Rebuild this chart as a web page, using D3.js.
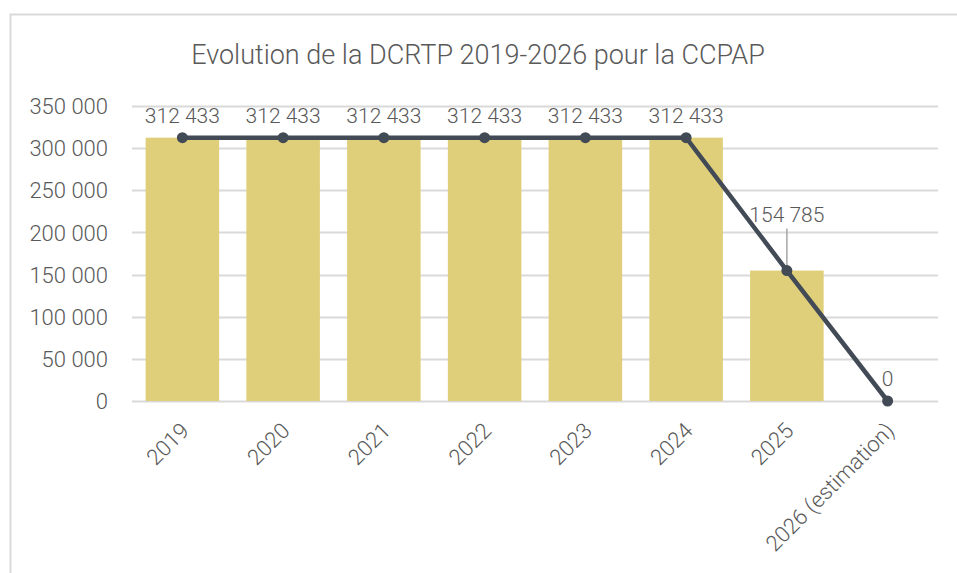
<!DOCTYPE html>
<html>
<head>
<meta charset="utf-8">
<script src="https://cdn.jsdelivr.net/npm/d3@7"></script>
<style>
  body { margin: 0; background: #fff; }
  svg text { font-family: Roboto, "Noto Sans", sans-serif; font-weight: 300; fill: #595959; }
</style>
</head>
<body>
<svg id="chart" width="957" height="573"></svg>
<script>
// chart data
const categories = ["2019", "2020", "2021", "2022", "2023", "2024", "2025", "2026 (estimation)"];
const barValues = [312433, 312433, 312433, 312433, 312433, 312433, 154785, null];
const lineValues = [312433, 312433, 312433, 312433, 312433, 312433, 154785, 0];
const yTicks = [0, 50000, 100000, 150000, 200000, 250000, 300000, 350000];
const title = "Evolution de la DCRTP 2019-2026 pour la CCPAP";

const svg = d3.select("#chart");
const margin = { left: 132, right: 19, top: 106, bottom: 172 };
const width = 957, height = 573;

// number formatting with a space as thousands separator
const fmt = d3.formatLocale({ decimal: ",", thousands: " ", grouping: [3], currency: ["", " €"] }).format(",d");

// outer frame of the chart
svg.append("rect")
    .attr("x", 10.5).attr("y", 14.5)
    .attr("width", 960).attr("height", 580)
    .attr("fill", "#fff")
    .attr("stroke", "#d9d9d9")
    .attr("stroke-width", 2);

svg.append("text")
    .attr("x", 478).attr("y", 64)
    .attr("text-anchor", "middle")
    .attr("font-size", 27)
    .text(title);

const x = d3.scaleBand()
    .domain(categories)
    .range([margin.left, width - margin.right])
    .paddingInner(0.27)
    .paddingOuter(0.135);

const y = d3.scaleLinear()
    .domain([0, 350000])
    .range([height - margin.bottom, margin.top]);

// gridlines
svg.append("g")
    .selectAll("line")
    .data(yTicks)
    .enter()
    .append("line")
    .attr("x1", margin.left).attr("x2", width - margin.right)
    .attr("y1", d => Math.round(y(d)) + 0.5).attr("y2", d => Math.round(y(d)) + 0.5)
    .attr("stroke", "#d9d9d9")
    .attr("stroke-width", 2);

// y axis labels
const yAxis = svg.append("g")
    .attr("transform", `translate(${margin.left - 24},0)`)
    .call(d3.axisLeft(y).tickValues(yTicks).tickFormat(fmt).tickSize(0).tickPadding(0));
yAxis.select(".domain").remove();
yAxis.selectAll("text")
    .attr("font-size", 22)
    .attr("dy", "0.35em")
    .style("font-family", "Roboto, sans-serif");

// bars
svg.append("g")
    .selectAll("rect")
    .data(categories.map((c, i) => ({ c: c, v: barValues[i] })).filter(d => d.v !== null))
    .enter()
    .append("rect")
    .attr("x", d => x(d.c))
    .attr("width", x.bandwidth())
    .attr("y", d => y(d.v))
    .attr("height", d => y(0) - y(d.v))
    .attr("fill", "#e0cf7a");

// x axis labels
const xAxis = svg.append("g")
    .attr("transform", `translate(0,${y(0)})`)
    .call(d3.axisBottom(x).tickSize(0).tickPadding(0));
xAxis.select(".domain").remove();
xAxis.selectAll("text")
    .attr("font-size", 22)
    .attr("text-anchor", "end")
    .attr("dy", 0)
    .attr("transform", "translate(8,31) rotate(-45)")
    .style("font-family", "Roboto, sans-serif");

// line
const points = categories.map((c, i) => ({ c: c, v: lineValues[i] }));
const cx = d => x(d.c) + x.bandwidth() / 2;

svg.append("path")
    .datum(points)
    .attr("fill", "none")
    .attr("stroke", "#414a55")
    .attr("stroke-width", 4.5)
    .attr("d", d3.line().x(cx).y(d => y(d.v)));

// leader line for the 2025 label
const p2025 = points[6];
svg.append("line")
    .attr("x1", cx(p2025)).attr("x2", cx(p2025))
    .attr("y1", y(p2025.v) - 42).attr("y2", y(p2025.v))
    .attr("stroke", "#a6a6a6")
    .attr("stroke-width", 1.5);

svg.append("g")
    .selectAll("circle")
    .data(points)
    .enter()
    .append("circle")
    .attr("cx", cx)
    .attr("cy", d => y(d.v))
    .attr("r", 5.5)
    .attr("fill", "#414a55");

// data labels
svg.append("g")
    .selectAll("text")
    .data(points)
    .enter()
    .append("text")
    .attr("x", cx)
    .attr("y", (d, i) => i === 6 ? y(d.v) - 49 : y(d.v) - 15)
    .attr("text-anchor", "middle")
    .attr("font-size", 21)
    .text(d => fmt(d.v));
</script>
</body>
</html>
